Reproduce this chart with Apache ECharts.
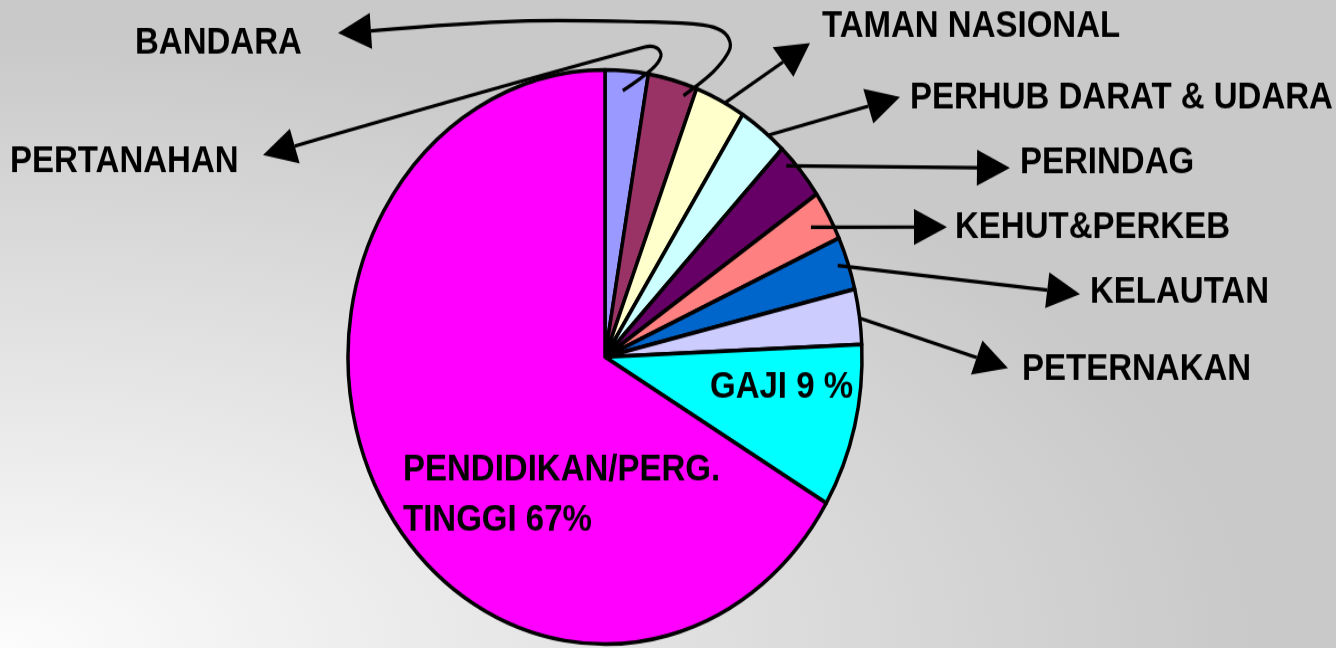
<!DOCTYPE html>
<html>
<head>
<meta charset="utf-8">
<script src="https://cdn.jsdelivr.net/npm/echarts@6/dist/echarts.min.js"></script>
<style>
    html, body { margin: 0; padding: 0; width: 1336px; height: 648px; overflow: hidden; }
    body { background: radial-gradient(ellipse 1250px 610px at 0px 648px, #fcfcfc 0%, #c9c9c9 100%); }
    /* the original pie is an ellipse, so the whole chart is stretched vertically */
    #chart { width: 1336px; height: 580px; transform: scaleY(1.117241); transform-origin: 0 0; }
</style>
</head>
<body>
<div id="chart"></div>
<script>
const sectors = ['PERTANAHAN', 'BANDARA', 'TAMAN NASIONAL', 'PERHUB DARAT & UDARA', 'PERINDAG',
    'KEHUT&PERKEB', 'KELAUTAN', 'PETERNAKAN', 'GAJI', 'PENDIDIKAN/PERG.\nTINGGI'];
const shares = [2.7, 3.1, 3.2, 3.1, 3.3, 2.8, 3.0, 3.1, 9.2, 66.5];
const sliceColors = ['#9999ff', '#993366', '#ffffcc', '#ccffff', '#660066',
    '#ff8080', '#0066cc', '#ccccff', '#00ffff', '#ff00ff'];

const SY = 648 / 580;
const cx = 605, cy = 357 / SY, R = 257;

// label anchors (left, middle) and arrow tips, in screen px
const labelPos = [[10, 162], [135, 44], [822, 27], [910, 98], [1020, 163], [955, 228],
    [1090, 293], [1022, 370], [710, 388], [403, 495]];
const arrowTip = [[263, 155], [338, 33], [810, 43], [900, 97], [1010, 168], [947, 227], [1080, 294], [1008, 368]];
// where each arrow leaves its slice: [share of the slice's angle, share of the radius]
const arrowFrom = [[0.44, 0.93], [0.79, 0.96], [0.6, 1.0], [0.63, 1.0], [0.26, 0.97], [0.51, 0.92], [0.47, 0.96], [0.53, 1.0]];
// hooks for the two arrows that loop back to the left
const arrowVia = {
    0: [[652, 69], [661, 56], [657, 48], [645, 47]],
    1: [[713, 72], [728, 53], [730, 42], [722, 31], [703, 25], [653, 22], [520, 21]]
};

var chartDom = document.getElementById('chart');
var myChart = echarts.init(chartDom, null, { renderer: 'canvas' });

const total = shares.reduce((a, b) => a + b, 0);
const toChart = (p) => [p[0], p[1] / SY];

const arrows = [];
let cum = 0;
shares.forEach((v, i) => {
    const from = cum;
    cum += v;
    if (i >= arrowTip.length) return;
    const ang = (from + v * arrowFrom[i][0]) / total * Math.PI * 2;
    const f = arrowFrom[i][1];
    const start = [cx + R * f * Math.sin(ang), (cy - R * f * Math.cos(ang)) * SY];
    const pts = [start].concat(arrowVia[i] || []);
    const tip = arrowTip[i];
    const prev = pts[pts.length - 1];
    let dx = tip[0] - prev[0], dy = tip[1] - prev[1];
    const len = Math.sqrt(dx * dx + dy * dy);
    dx /= len; dy /= len;
    const L = 33, W = 18;
    const base = [tip[0] - dx * L, tip[1] - dy * L];
    pts.push(base);
    arrows.push({
        type: 'polyline',
        z: 100,
        shape: { points: pts.map(toChart), smooth: arrowVia[i] ? 0.35 : 0 },
        style: { stroke: '#000', lineWidth: 3.2, fill: null },
        silent: true
    });
    arrows.push({
        type: 'polygon',
        z: 100,
        shape: {
            points: [tip, [base[0] - dy * W, base[1] + dx * W], [base[0] + dy * W, base[1] - dx * W]].map(toChart)
        },
        style: { fill: '#000' },
        silent: true
    });
});

var option = {
    backgroundColor: 'transparent',
    animation: false,
    graphic: { elements: arrows },
    series: [
        {
            type: 'pie',
            center: [cx, cy],
            radius: R,
            startAngle: 90,
            clockwise: true,
            silent: true,
            avoidLabelOverlap: false,
            itemStyle: { borderColor: '#000', borderWidth: 3.5 },
            label: {
                show: true,
                position: 'outside',
                color: '#000',
                fontFamily: '"Liberation Sans", Arial, sans-serif',
                fontWeight: 'bold',
                fontSize: 33,
                lineHeight: 45,
                formatter: (p) => {
                    if (p.dataIndex === 8) return p.name + ' ' + Math.round(p.percent) + ' %';
                    if (p.dataIndex === 9) return p.name + ' ' + Math.round(p.percent) + '%';
                    return p.name;
                }
            },
            labelLine: { show: false },
            labelLayout: (p) => ({
                x: labelPos[p.dataIndex][0],
                y: labelPos[p.dataIndex][1] / SY,
                align: 'left',
                verticalAlign: 'middle'
            }),
            data: sectors.map((n, i) => ({ name: n, value: shares[i], itemStyle: { color: sliceColors[i] } }))
        }
    ]
};

option && myChart.setOption(option);
</script>
</body>
</html>
